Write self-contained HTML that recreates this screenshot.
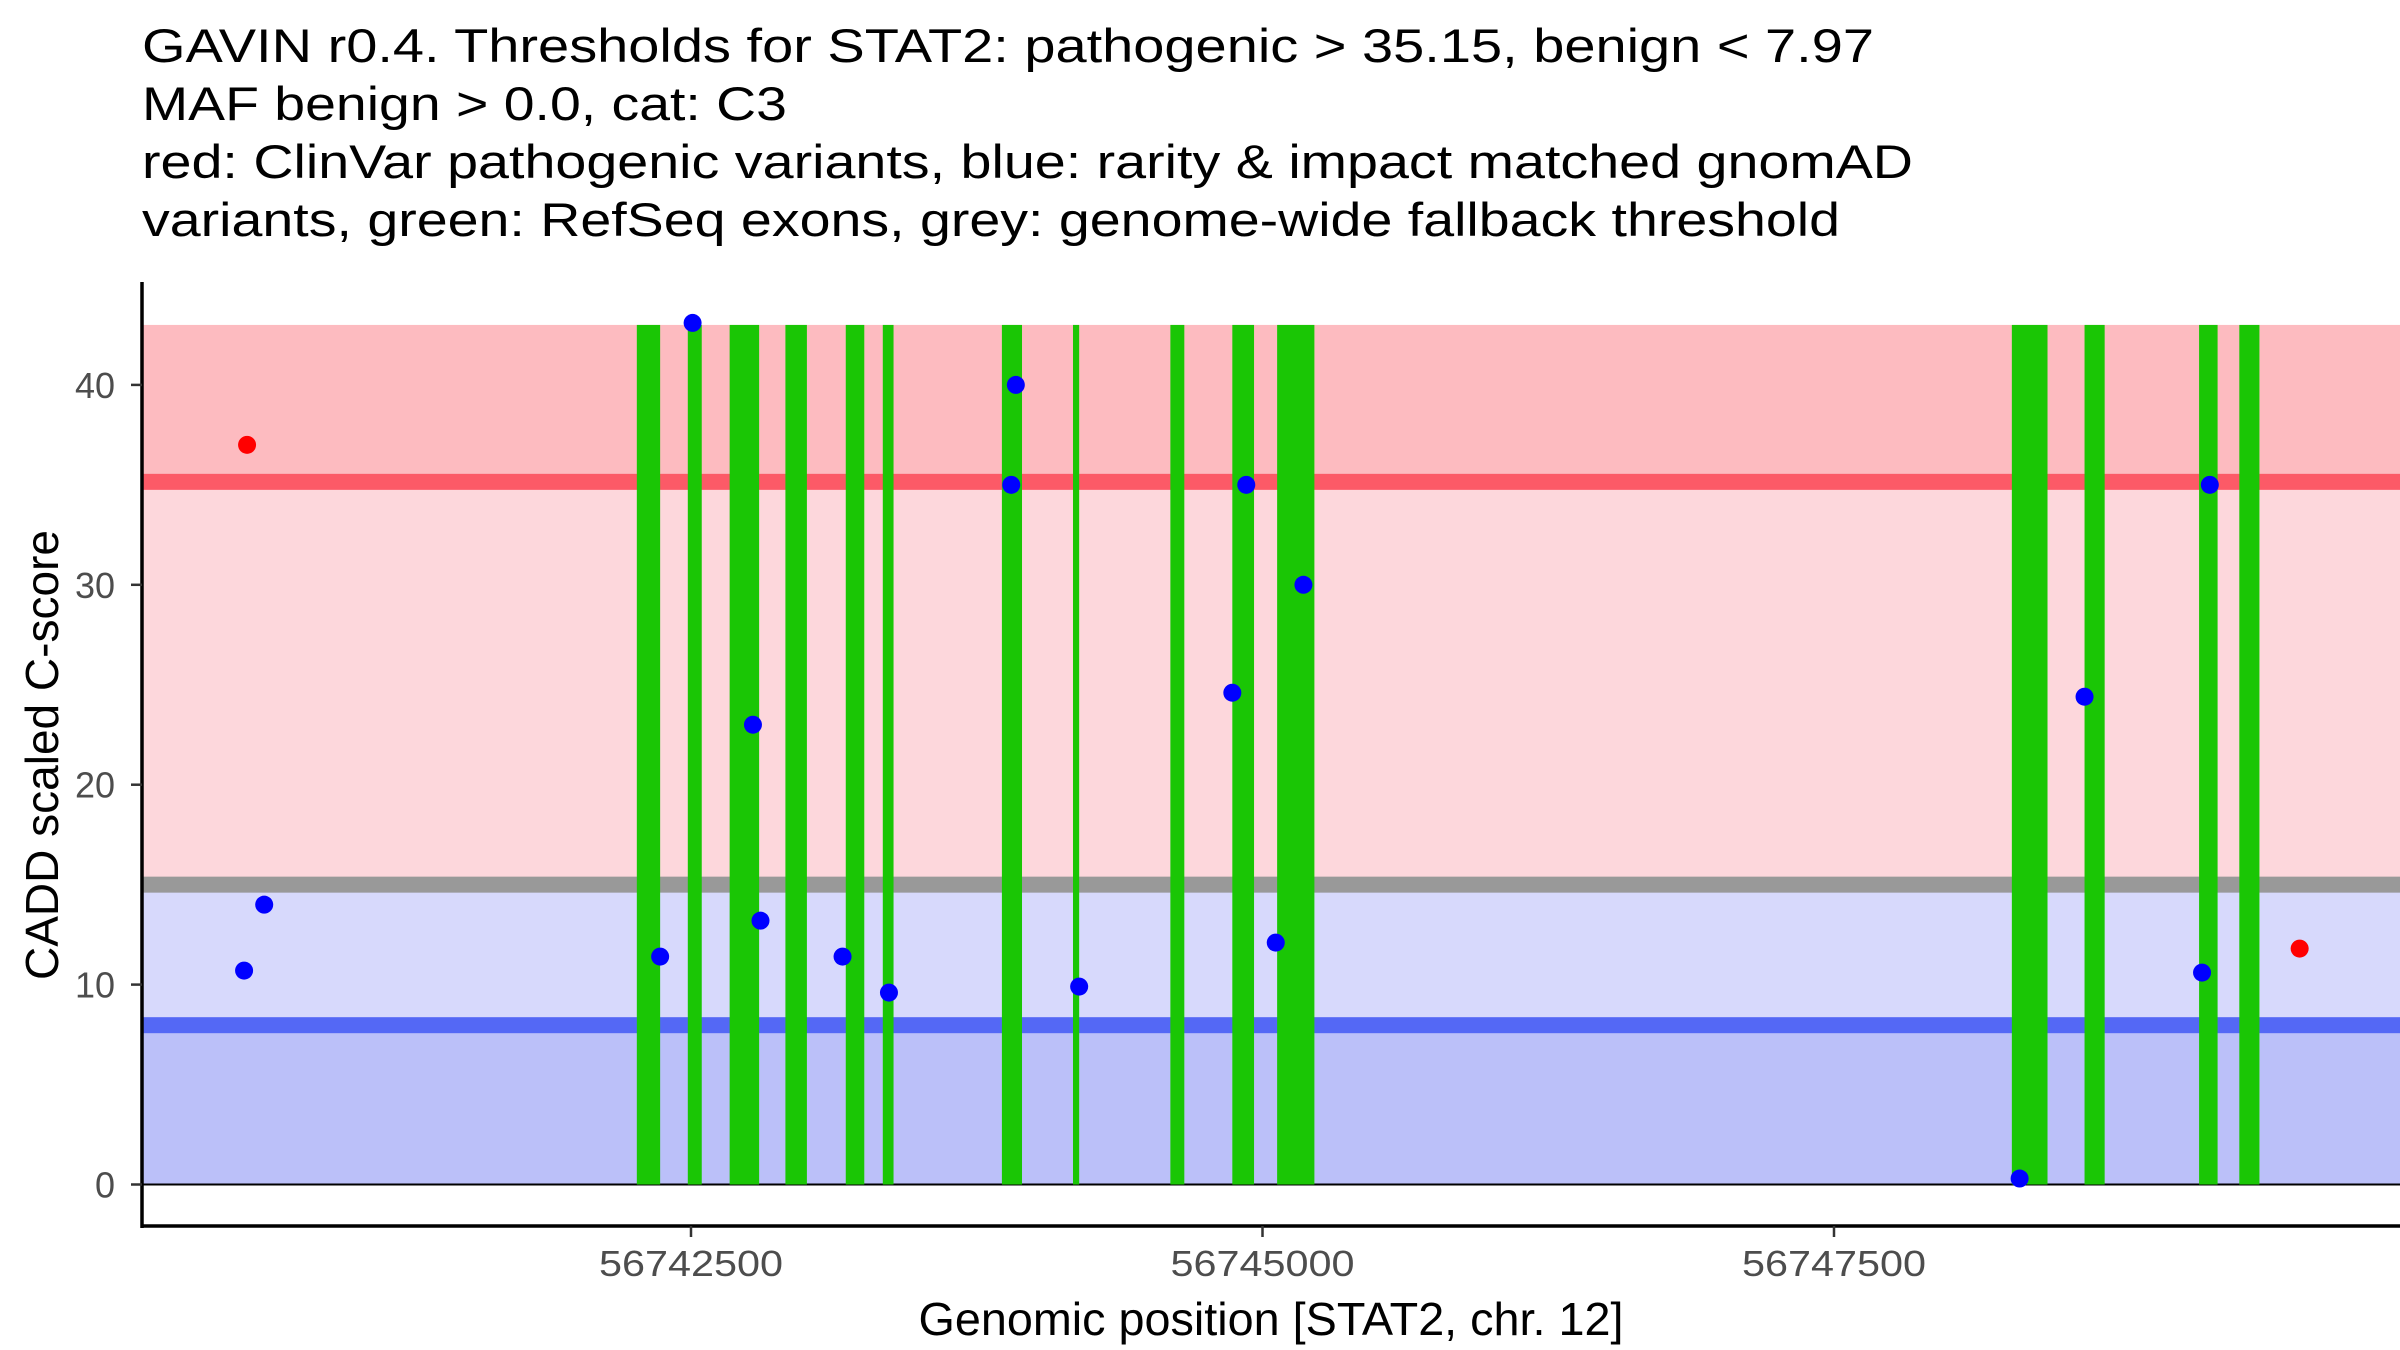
<!DOCTYPE html>
<html><head><meta charset="utf-8"><style>
html,body{margin:0;padding:0;background:#fff}
svg{display:block}
text{font-family:"Liberation Sans",Arial,sans-serif}
</style></head><body>
<svg id="chart" width="2400" height="1350" viewBox="0 0 2400 1350">
<g font-size="47" fill="#000">
<text x="142" y="62" textLength="1732" lengthAdjust="spacingAndGlyphs">GAVIN r0.4. Thresholds for STAT2: pathogenic &gt; 35.15, benign &lt; 7.97</text>
<text x="142" y="120" textLength="645" lengthAdjust="spacingAndGlyphs">MAF benign &gt; 0.0, cat: C3</text>
<text x="142" y="178" textLength="1771" lengthAdjust="spacingAndGlyphs">red: ClinVar pathogenic variants, blue: rarity &amp; impact matched gnomAD</text>
<text x="142" y="236" textLength="1698" lengthAdjust="spacingAndGlyphs">variants, green: RefSeq exons, grey: genome-wide fallback threshold</text>
</g>
<g id="bands"></g>
<g id="exons"></g>
<g id="points"></g>
<g id="axes"></g>
<text x="58" y="755" font-size="46" text-anchor="middle" textLength="450" lengthAdjust="spacingAndGlyphs" transform="rotate(-90 58 755)">CADD scaled C-score</text>
<text x="1271" y="1335" font-size="46" text-anchor="middle" textLength="705" lengthAdjust="spacingAndGlyphs">Genomic position [STAT2, chr. 12]</text>
</svg>
<script>
const exonStarts=[56742263,56742486,56742669,56742913,56743177,56743339,56743860,56744171,56744597,56744868,56745064,56748278,56748596,56749097,56749273];
const exonEnds=[56742365,56742547,56742798,56743007,56743258,56743386,56743948,56744198,56744658,56744963,56745227,56748434,56748684,56749178,56749361];
const pathoPos=[56740558,56749537];
const pathoScore=[37.0,11.8];
const benignPos=[56740545,56740633,56742365,56742507,56742771,56742804,56743163,56743366,56743901,56743921,56744198,56744868,56744929,56745058,56745179,56748312,56748596,56749110,56749144];
const benignScore=[10.7,14.0,11.4,43.1,23.0,13.2,11.4,9.6,35.0,40.0,9.9,24.6,35.0,12.1,30.0,0.3,24.4,10.6,35.0];
const xTicks=[56742500,56745000,56747500];
const yTicks=[0,10,20,30,40];
const pathoThr=35.15, benignThr=7.97, fallbackThr=15, maxScore=43;

const NS='http://www.w3.org/2000/svg';
const X0=56742500, PX0=691, PXPER=571.5/2500;
const x=v=>PX0+(v-X0)*PXPER;
const Y0=1184.5, PYPER=19.99;
const y=v=>Y0-v*PYPER;
const L=142,R=2400;
function mk(tag,attrs,parent){const e=document.createElementNS(NS,tag);for(const k in attrs)e.setAttribute(k,attrs[k]);parent.appendChild(e);return e;}
const bands=document.getElementById('bands');
const bandDefs=[[pathoThr,maxScore,'#fdbbc0','band-pathogenic'],[fallbackThr,pathoThr,'#fdd7dc','band-uncertain-high'],[benignThr,fallbackThr,'#d7d9fc','band-uncertain-low'],[0,benignThr,'#bbc0f9','band-benign']];
bandDefs.forEach(b=>{
 const r=mk('rect',{x:L,y:y(b[1]),width:R-L,height:y(b[0])-y(b[1]),fill:b[2]},bands);
 
 
});
[[pathoThr,'#fc5a67','pathogenic-threshold-line'],[fallbackThr,'#999999','fallback-threshold-line'],[benignThr,'#5468f5','benign-threshold-line']].forEach(t=>{
 const r=mk('rect',{x:L,y:y(t[0])-8,width:R-L,height:16,fill:t[1]},bands);
 
 
});
const ex=document.getElementById('exons');
exonStarts.forEach((s,i)=>{
 const w=Math.max(x(exonEnds[i])-x(s),4);
 const r=mk('rect',{x:x(s),y:y(maxScore),width:w,height:y(0)-y(maxScore),fill:'#1ac605'},ex);
 
 
});
mk('line',{x1:L,x2:R,y1:y(0),y2:y(0),stroke:'#000','stroke-width':2},bands);
const pts=document.getElementById('points');
benignPos.forEach((p,i)=>{
 const c=mk('circle',{cx:x(p),cy:y(benignScore[i]),r:9,fill:'#0000ff'},pts);
 
 
});
pathoPos.forEach((p,i)=>{
 const c=mk('circle',{cx:x(p),cy:y(pathoScore[i]),r:9,fill:'#ff0000'},pts);
 
 
});
const ax=document.getElementById('axes');
const yl=mk('line',{x1:L,x2:L,y1:282,y2:1228,stroke:'#000','stroke-width':3.5},ax);


const xl=mk('line',{x1:L-1.5,x2:R,y1:1226,y2:1226,stroke:'#000','stroke-width':3.5},ax);


yTicks.forEach(t=>{
 mk('line',{x1:L-11,x2:L,y1:y(t),y2:y(t),stroke:'#333','stroke-width':2.5},ax);
 const tx=mk('text',{x:L-27,y:y(t)+13,'font-size':36,'text-anchor':'end',fill:'#4d4d4d'},ax);
 tx.textContent=t;
 
 
});
xTicks.forEach(t=>{
 mk('line',{x1:x(t),x2:x(t),y1:1226,y2:1237,stroke:'#333','stroke-width':2.5},ax);
 const tx=mk('text',{x:x(t),y:1276,'font-size':36,'text-anchor':'middle',fill:'#4d4d4d',textLength:184,lengthAdjust:'spacingAndGlyphs'},ax);
 tx.textContent=t;
 
 
});
</script>
</body></html>
